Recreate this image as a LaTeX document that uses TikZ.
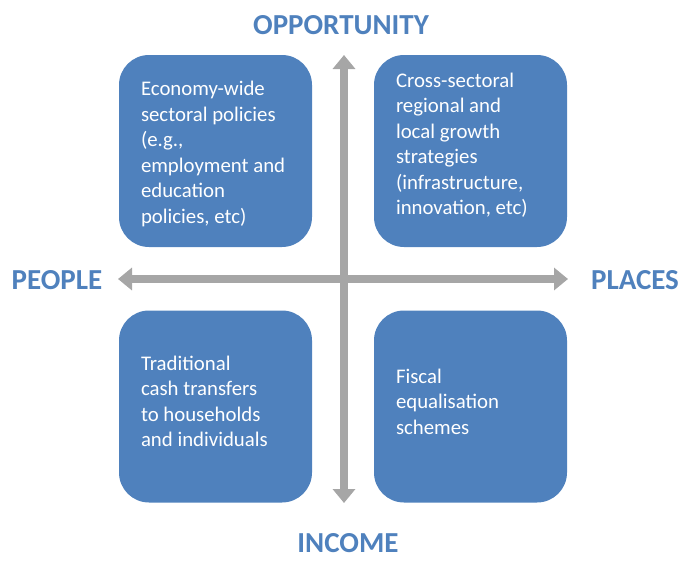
\documentclass[tikz,border=0pt]{standalone}
\usepackage{fontspec}
\setmainfont{Carlito}
\usetikzlibrary{arrows.meta}
\definecolor{boxblue}{HTML}{4F81BD}
\definecolor{axisgray}{HTML}{A6A6A6}
\begin{document}
\begin{tikzpicture}[x=1pt,y=-1pt,
  quad/.style={fill=boxblue,draw=none,rounded corners=30pt,minimum width=193pt,minimum height=192pt,inner sep=0pt},
  quadtext/.style={anchor=west,text=white,align=left,inner sep=0pt,font=\fontsize{20.8}{25.5}\selectfont},
  heading/.style={text=boxblue,inner sep=0pt,font=\fontsize{29}{30}\selectfont\bfseries},
  axis/.style={draw=axisgray,line width=8pt,{Triangle[width=22pt,length=14pt]}-{Triangle[width=22pt,length=14pt]}}]
\useasboundingbox (0,0) rectangle (680,560);
% boxes
\node[quad] (tl) at (215.5,151) {};
\node[quad] (tr) at (470.5,151) {};
\node[quad] (bl) at (215.5,406.5) {};
\node[quad] (br) at (470.5,406.5) {};
% axes
\coordinate (vtop) at (344,55);
\coordinate (vbot) at (344,503);
\coordinate (hleft) at (118,279);
\coordinate (hright) at (568,279);
\draw[axis] (vbot) -- (vtop);
\draw[axis] (hleft) -- (hright);
% texts
\node[quadtext] (tlt) at ([xshift=22pt,yshift=-3pt]tl.west) {Economy-wide\\sectoral policies\\(e.g.,\\employment and\\education\\policies, etc)};
\node[quadtext] (trt) at ([xshift=22pt,yshift=6pt]tr.west) {Cross-sectoral\\regional and\\local growth\\strategies\\(infrastructure,\\innovation, etc)};
\node[quadtext] (blt) at ([xshift=22pt,yshift=5pt]bl.west) {Traditional\\cash transfers\\to households\\and individuals};
\node[quadtext] (brt) at ([xshift=22pt,yshift=5pt]br.west) {Fiscal\\equalisation\\schemes};
% headings
\node[heading] (opp) at (341,25) {OPPORTUNITY};
\node[heading] (inc) at (348,543) {INCOME};
\node[heading] (peo) at (57,280) {PEOPLE};
\node[heading] (pla) at (635,280) {PLACES};
\end{tikzpicture}
\end{document}
